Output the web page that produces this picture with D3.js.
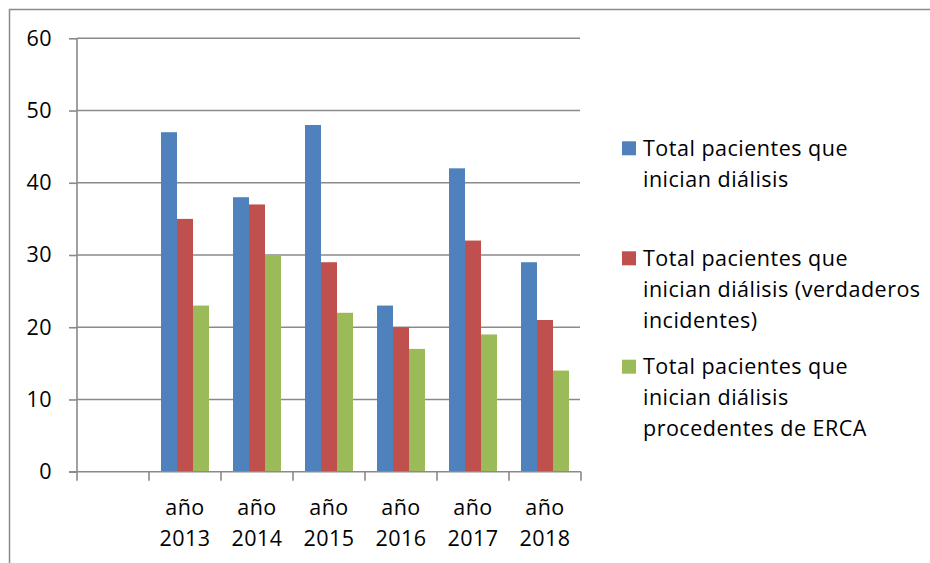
<!DOCTYPE html>
<html>
<head>
<meta charset="utf-8">
<script src="https://cdn.jsdelivr.net/npm/d3@7"></script>
<style>
  html, body { margin: 0; padding: 0; background: #fff; }
  svg { display: block; }
  text { font-family: "Open Sans", Lato, sans-serif; fill: #000; letter-spacing: 0.5px; }
</style>
</head>
<body>
<svg id="chart" width="930" height="563"></svg>
<script>
// Categories (the first slot on the axis is left empty)
const categories = ["año 2013", "año 2014", "año 2015", "año 2016", "año 2017", "año 2018"];

// Series values
const totalInician = [47, 38, 48, 23, 42, 29];
const verdaderosIncidentes = [35, 37, 29, 20, 32, 21];
const procedentesERCA = [23, 30, 22, 17, 19, 14];

const seriesNames = [
  ["Total pacientes que", "inician diálisis"],
  ["Total pacientes que", "inician diálisis (verdaderos", "incidentes)"],
  ["Total pacientes que", "inician diálisis", "procedentes de ERCA"]
];
const seriesColors = ["#4F81BD", "#C0504D", "#9BBB59"];
const seriesValues = [totalInician, verdaderosIncidentes, procedentesERCA];

// Y axis ticks
const yTicks = [0, 10, 20, 30, 40, 50, 60];

const FONT = "Open Sans, Lato, sans-serif";
const FS = 21.5;

const svg = d3.select("#chart");
const gridColor = "#8a8a8a";

// Outer frame
svg.append("path")
  .attr("d", "M9.5,563 V9.5 H930")
  .attr("fill", "none")
  .attr("stroke", gridColor)
  .attr("stroke-width", 1.5);

const plot = { left: 77, right: 581, top: 38.3, bottom: 471.7 };

const x = d3.scaleBand()
  .domain([""].concat(categories))
  .range([plot.left, plot.right])
  .paddingInner(0)
  .paddingOuter(0);

// Three 16px bars centred in each 72px slot
const xSeries = d3.scaleBand()
  .domain(d3.range(seriesValues.length))
  .range([0, x.bandwidth()])
  .paddingInner(0)
  .paddingOuter(0.75);

const y = d3.scaleLinear().domain([0, 60]).range([plot.bottom, plot.top]);

// Horizontal gridlines
svg.append("g")
  .selectAll("line")
  .data(yTicks.filter(d => d > 0))
  .join("line")
  .attr("x1", plot.left)
  .attr("x2", plot.right - 1)
  .attr("y1", d => y(d))
  .attr("y2", d => y(d))
  .attr("stroke", gridColor)
  .attr("stroke-width", 1.6);

// Bars
const groups = svg.append("g")
  .selectAll("g")
  .data(seriesValues)
  .join("g")
  .attr("fill", (d, i) => seriesColors[i]);

groups.each(function (vals, si) {
  d3.select(this).selectAll("rect")
    .data(vals.map((v, ci) => ({ v, cat: categories[ci] })))
    .join("rect")
    .attr("x", d => x(d.cat) + xSeries(si))
    .attr("width", xSeries.bandwidth())
    .attr("y", d => y(d.v))
    .attr("height", d => y(0) - y(d.v));
});

// Y axis
const yAxis = d3.axisLeft(y).tickValues(yTicks).tickSize(8).tickPadding(17);
const gy = svg.append("g")
  .attr("transform", `translate(${plot.left},0)`)
  .call(yAxis);
gy.select(".domain").attr("stroke", gridColor).attr("stroke-width", 1.6)
  .attr("d", `M0,${plot.top}V${plot.bottom}`);
gy.selectAll(".tick line").attr("stroke", gridColor).attr("stroke-width", 1.6);
gy.selectAll(".tick text")
  .style("font-family", FONT)
  .attr("font-size", FS)
  .attr("fill", "#000");

// X axis baseline and category dividers
const gx = svg.append("g");
gx.append("line")
  .attr("x1", plot.left - 8).attr("x2", plot.right)
  .attr("y1", plot.bottom).attr("y2", plot.bottom)
  .attr("stroke", gridColor).attr("stroke-width", 1.6);
const edges = x.domain().map(c => x(c)).concat([plot.right]);
gx.selectAll("line.div")
  .data(edges)
  .join("line")
  .attr("class", "div")
  .attr("x1", d => d).attr("x2", d => d)
  .attr("y1", plot.bottom).attr("y2", plot.bottom + 9)
  .attr("stroke", gridColor).attr("stroke-width", 1.6);

// Category labels, two lines each
const catLabels = gx.selectAll("text.cat")
  .data(categories)
  .join("text")
  .attr("class", "cat")
  .attr("text-anchor", "middle")
  .attr("font-size", FS)
  .attr("x", d => x(d) + x.bandwidth() / 2);
catLabels.each(function (d) {
  const parts = d.split(" ");
  const t = d3.select(this);
  parts.forEach((p, i) => {
    t.append("tspan")
      .attr("x", x(d) + x.bandwidth() / 2)
      .attr("y", 515 + i * 30.5)
      .text(p);
  });
});

// Legend
const legendTop = [148.3, 258.3, 366.7];
const legend = svg.append("g")
  .selectAll("g")
  .data(seriesNames)
  .join("g");
legend.append("rect")
  .attr("x", 622)
  .attr("y", (d, i) => legendTop[i] - 7)
  .attr("width", 14)
  .attr("height", 14)
  .attr("fill", (d, i) => seriesColors[i]);
legend.append("text")
  .attr("font-size", FS)
  .each(function (lines, i) {
    const t = d3.select(this);
    lines.forEach((ln, j) => {
      t.append("tspan")
        .attr("x", 643)
        .attr("y", legendTop[i] + 7.5 + j * 31)
        .text(ln);
    });
  });
</script>
</body>
</html>
